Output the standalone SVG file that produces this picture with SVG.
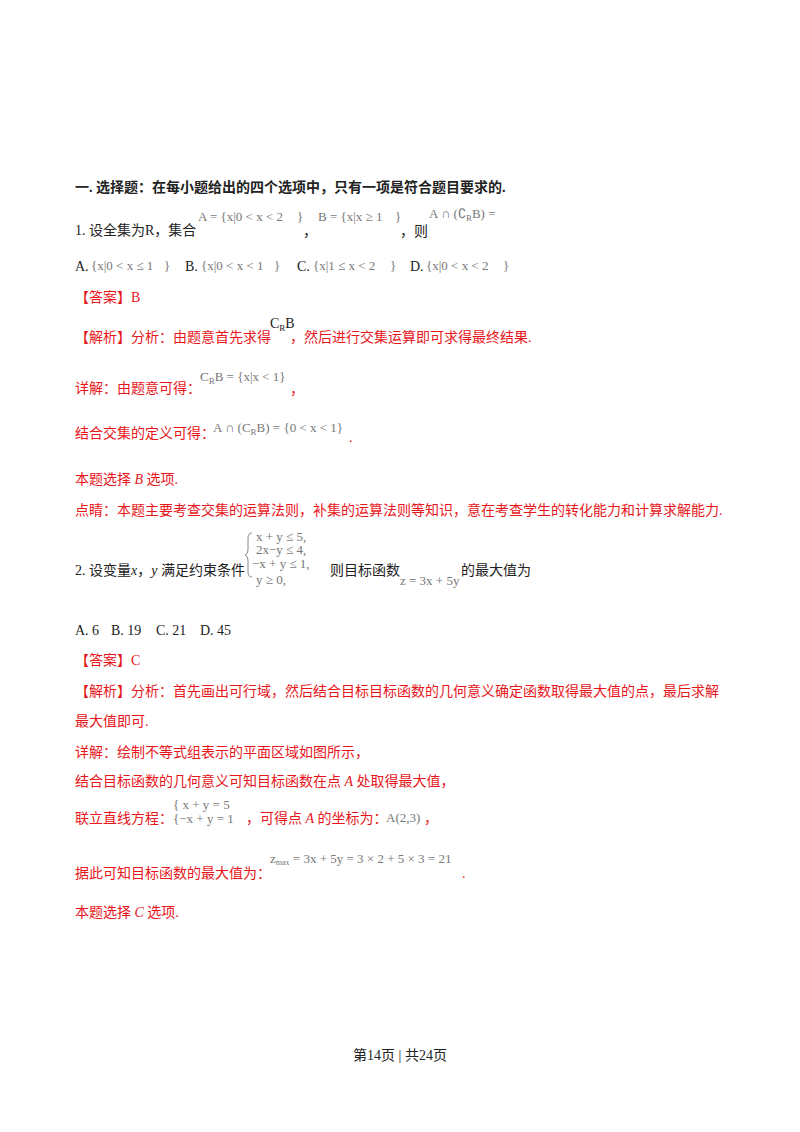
<svg xmlns="http://www.w3.org/2000/svg" width="800" height="1132" viewBox="0 0 800 1132">
<style>
text{font-family:"Liberation Serif","Noto Sans CJK SC",serif;font-size:14px;fill:#222}
.r{fill:#e8161b}
.m{fill:#777;font-size:13px}
.b{font-weight:bold}
.i{font-style:italic}
</style>
<rect width="800" height="1132" fill="#fff"/>
<text x="75" y="192" class="b">一. 选择题：在每小题给出的四个选项中，只有一项是符合题目要求的.</text>
<text x="75" y="235">1. 设全集为R，集合</text>
<text x="198" y="221" class="m">A = {x|0 &lt; x &lt; 2</text><text x="297" y="221" class="m">}</text>
<text x="303" y="236">，</text>
<text x="318" y="221" class="m">B = {x|x ≥ 1</text><text x="395" y="221" class="m">}</text>
<text x="400" y="236">，则</text>
<text x="429" y="218" class="m">A ∩ (∁<tspan font-size="9" dy="3">R</tspan><tspan dy="-3">B) =</tspan></text>
<text x="75" y="271">A.</text><text x="91" y="270" class="m">{x|0 &lt; x ≤ 1</text><text x="164" y="270" class="m">}</text>
<text x="185" y="271">B.</text><text x="201" y="270" class="m">{x|0 &lt; x &lt; 1</text><text x="274" y="270" class="m">}</text>
<text x="297" y="271">C.</text><text x="313" y="270" class="m">{x|1 ≤ x &lt; 2</text><text x="390" y="270" class="m">}</text>
<text x="410" y="271">D.</text><text x="426" y="270" class="m">{x|0 &lt; x &lt; 2</text><text x="503" y="270" class="m">}</text>
<text x="75" y="302" class="r">【答案】B</text>
<text x="75" y="342" class="r">【解析】分析：由题意首先求得</text>
<text x="270" y="328" font-size="12" fill="#333">C<tspan font-size="9" dy="3">R</tspan><tspan dy="-3">B</tspan></text>
<text x="290" y="342" class="r">，然后进行交集运算即可求得最终结果.</text>
<text x="75" y="393" class="r">详解：由题意可得：</text>
<text x="200" y="381" class="m">C<tspan font-size="9" dy="3">R</tspan><tspan dy="-3">B = {x|x &lt; 1}</tspan></text>
<text x="290" y="394" class="r">，</text>
<text x="75" y="438" class="r">结合交集的定义可得：</text>
<text x="213" y="432" class="m">A ∩ (C<tspan font-size="9" dy="3">R</tspan><tspan dy="-3">B) = {0 &lt; x &lt; 1}</tspan></text>
<text x="349" y="442" class="r">.</text>
<text x="75" y="484" class="r">本题选择 <tspan class="i r">B</tspan> 选项.</text>
<text x="75" y="515" class="r">点睛：本题主要考查交集的运算法则，补集的运算法则等知识，意在考查学生的转化能力和计算求解能力.</text>
<text x="75" y="575">2. 设变量<tspan class="i">x</tspan>，<tspan class="i">y</tspan> 满足约束条件</text>
<path d="M252,533 q-4,0 -4,5 v12 q0,4 -3,5 q3,1 3,5 v12 q0,5 4,5" fill="none" stroke="#888" stroke-width="1"/>
<text x="256" y="541" class="m">x + y ≤ 5,</text>
<text x="256" y="554" class="m">2x−y ≤ 4,</text>
<text x="252" y="568" class="m">−x + y ≤ 1,</text>
<text x="256" y="584" class="m">y ≥ 0,</text>
<text x="330" y="575">则目标函数</text>
<text x="400" y="585" class="m">z = 3x + 5y</text>
<text x="461" y="575">的最大值为</text>
<text x="75" y="635">A. 6</text><text x="111" y="635">B. 19</text><text x="156" y="635">C. 21</text><text x="200" y="635">D. 45</text>
<text x="75" y="665" class="r">【答案】C</text>
<text x="75" y="696" class="r">【解析】分析：首先画出可行域，然后结合目标目标函数的几何意义确定函数取得最大值的点，最后求解</text>
<text x="75" y="726" class="r">最大值即可.</text>
<text x="75" y="757" class="r">详解：绘制不等式组表示的平面区域如图所示，</text>
<text x="75" y="786" class="r">结合目标函数的几何意义可知目标函数在点 <tspan class="i r">A</tspan> 处取得最大值，</text>
<text x="75" y="823" class="r">联立直线方程：</text>
<text x="173" y="809" class="m">{ x + y = 5</text>
<text x="173" y="823" class="m">{−x + y = 1</text>
<text x="246" y="823" class="r">，可得点 <tspan class="i r">A</tspan> 的坐标为：</text>
<text x="386" y="822" class="m">A(2,3)</text>
<text x="424" y="823" class="r">，</text>
<text x="75" y="878" class="r">据此可知目标函数的最大值为：</text>
<text x="270" y="863" class="m">z<tspan font-size="8" dy="2">max</tspan><tspan dy="-2"> = 3x + 5y = 3 × 2 + 5 × 3 = 21</tspan></text>
<text x="462" y="878" class="r">.</text>
<text x="75" y="917" class="r">本题选择 <tspan class="i r">C</tspan> 选项.</text>
<text x="400" y="1060" text-anchor="middle" font-size="13">第14页 | 共24页</text>
</svg>
